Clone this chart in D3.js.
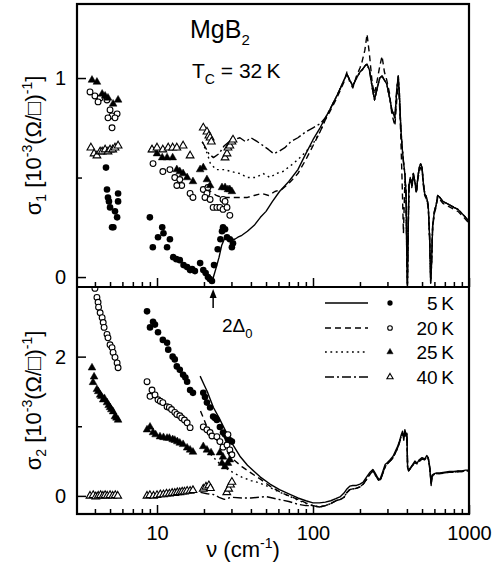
<!DOCTYPE html>
<html><head><meta charset="utf-8">
<script src="https://cdn.jsdelivr.net/npm/d3@7"></script>
<style>
body{margin:0;background:#fff}
svg{display:block}
text{font-family:"Liberation Sans",Arial,Helvetica,sans-serif;fill:#000}
</style>
</head><body>
<svg id="c" width="492" height="563"></svg>
<script>
// ---------- tick values ----------
const xMajor = [10, 100, 1000];
const xMinor = [4,5,6,7,8,9,20,30,40,50,60,70,80,90,200,300,400,500,600,700,800,900];
const y1Major = [0, 1];
const y1Minor = [0.5];
const y2Major = [0, 2];
const y2Minor = [1];
const gapNu = 22.9;   // 2Δ0 arrow position (cm^-1)

// ---------- legend ----------
const legendLabels = ["5 K", "20 K", "25 K", "40 K"];

// ---------- sigma1 lines, low-frequency part [nu, sigma1] ----------
const s1Low5K  = [[22.5,-0.03],[23,0.0],[24,0.05],[25,0.10],[26,0.16],[27,0.19],[28,0.21],[29,0.20],[30,0.19],[31.5,0.19],[33,0.20],[35,0.21],[38,0.23],[42,0.26],[46,0.30],[50,0.33],[55,0.38],[61,0.43],[70,0.48],[80,0.54],[90,0.62],[100,0.69],[111,0.75],[120,0.80]];
const s1Low20K = [[21,0.45],[22,0.43],[24,0.41],[26,0.40],[30,0.40],[34,0.40],[38,0.40],[42,0.41],[47,0.42],[52,0.41],[57,0.43],[63,0.44],[70,0.47],[80,0.52],[90,0.59],[100,0.66],[111,0.73],[120,0.79]];
const s1Low25K = [[19.5,0.68],[21,0.62],[22,0.57],[24,0.54],[27,0.54],[30,0.53],[34,0.52],[38,0.50],[43,0.50],[48,0.52],[53,0.50],[58,0.52],[64,0.53],[72,0.56],[80,0.59],[90,0.63],[100,0.67],[111,0.73],[120,0.79]];
const s1Low40K = [[19.5,0.68],[21.5,0.62],[23,0.60],[25,0.62],[27,0.66],[29,0.68],[31,0.69],[34,0.70],[37,0.68],[40,0.70],[44,0.68],[48,0.66],[52,0.64],[56,0.62],[60,0.63],[66,0.65],[72,0.68],[80,0.70],[90,0.73],[100,0.75],[111,0.77],[120,0.80]];

// ---------- sigma1 high-frequency part (shared grid) ----------
const s1TailNu = [128,140,150,158,165,172,180,190,200,206,215,222,230,240,248,258,268,277,287,297,310,320,335,345,352,358,365,372,380,388,395,400,403,407,412,420,430,440,450,460,470,480,490,500,510,520,535,548,560,568,575,585,600,615,630,650,680,720,760,800,850,900,950,1000];
const s1TailA  = [0.84,0.90,0.95,0.99,1.02,0.99,0.96,1.00,1.03,1.04,1.06,1.07,1.04,0.95,0.89,0.95,1.00,1.01,0.99,0.97,0.90,0.84,0.80,0.95,1.01,0.92,0.76,0.66,0.58,0.52,0.42,0.05,-0.04,0.20,0.46,0.50,0.46,0.52,0.48,0.43,0.50,0.55,0.57,0.55,0.47,0.42,0.40,0.36,0.18,-0.03,0.06,0.26,0.33,0.36,0.41,0.40,0.38,0.37,0.36,0.35,0.34,0.32,0.30,0.28];
const s1TailB  = [0.83,0.89,0.94,0.98,1.03,0.98,0.95,1.01,1.05,1.08,1.14,1.22,1.12,0.97,0.92,0.99,1.06,1.11,1.03,0.99,0.92,0.82,0.76,0.90,0.97,0.88,0.72,0.50,0.22,0.48,0.40,0.08,-0.02,0.22,0.44,0.49,0.45,0.50,0.47,0.42,0.49,0.53,0.55,0.54,0.46,0.41,0.39,0.35,0.20,0.02,0.08,0.25,0.32,0.35,0.40,0.39,0.37,0.36,0.35,0.34,0.33,0.31,0.29,0.27];

// ---------- sigma2 lines, low-frequency part [nu, sigma2] ----------
const s2Low5K  = [[18.9,1.72],[20,1.60],[21,1.50],[22,1.38],[23,1.27],[25,1.12],[27,0.97],[30,0.77],[34,0.57],[38,0.44],[42,0.35],[46,0.27],[53,0.17],[61,0.09],[70,0.03],[80,-0.03],[90,-0.07]];
const s2Low20K = [[19,1.22],[20,1.10],[21,0.98],[23,0.87],[25,0.76],[28,0.63],[31,0.52],[35,0.42],[40,0.33],[46,0.24],[53,0.14],[61,0.06],[70,0.00],[80,-0.05],[90,-0.10]];
const s2Low25K = [[20,0.72],[22,0.60],[25,0.47],[28,0.39],[31,0.33],[35,0.27],[40,0.22],[45,0.19],[52,0.13],[60,0.06],[70,0.00],[80,-0.06],[90,-0.11]];
const s2Low40K = [[19,0.05],[21,0.03],[23,0.02],[25,-0.02],[27,-0.05],[30,-0.02],[35,-0.03],[40,-0.03],[45,-0.02],[50,-0.01],[55,-0.03],[60,-0.05],[70,-0.08],[80,-0.12],[90,-0.14]];

// ---------- sigma2 high-frequency part ----------
const s2TailNu = [100,110,120,130,140,150,158,165,172,180,190,200,210,222,232,242,250,260,268,278,290,300,312,326,340,350,360,368,375,382,388,395,400,404,410,420,435,450,465,480,500,520,536,548,560,572,580,600,620,650,700,750,800,850,900,950,1000];
const s2TailA  = [-0.10,-0.10,-0.09,-0.07,-0.04,-0.01,0.04,0.10,0.14,0.15,0.15,0.17,0.20,0.28,0.34,0.38,0.33,0.26,0.23,0.33,0.45,0.48,0.52,0.57,0.66,0.72,0.80,0.88,0.93,0.80,0.95,0.88,0.90,0.40,0.37,0.40,0.45,0.50,0.47,0.52,0.55,0.53,0.58,0.55,0.42,0.15,0.30,0.32,0.33,0.33,0.34,0.35,0.35,0.36,0.36,0.37,0.37];
const s2TailB  = [-0.14,-0.16,-0.14,-0.11,-0.07,-0.05,-0.02,0.05,0.09,0.10,0.11,0.13,0.17,0.25,0.31,0.36,0.31,0.24,0.21,0.30,0.42,0.46,0.50,0.55,0.63,0.70,0.78,0.86,0.90,0.85,0.92,0.86,0.88,0.42,0.36,0.39,0.44,0.48,0.46,0.50,0.53,0.52,0.56,0.54,0.40,0.18,0.28,0.31,0.32,0.32,0.33,0.34,0.34,0.35,0.35,0.36,0.36];

// ---------- sigma1 markers [nu, sigma1] ----------
const m1_5K  = [[4.71,0.55],[4.78,0.44],[4.85,0.40],[5.63,0.42],[4.92,0.38],[5.63,0.38],[5.0,0.35],[5.38,0.33],[5.55,0.30],[5.15,0.25],[5.25,0.25],
  [9.0,0.30],[9.4,0.15],[10.8,0.25],[11.0,0.22],[10.15,0.20],[12.1,0.19],[11.6,0.15],[12.7,0.10],[13.3,0.09],[14.0,0.085],[14.8,0.06],[15.6,0.05],[16.3,0.035],[16.8,0.04],[17.5,0.03],[18.9,0.07],[19.8,0.035],[20.5,0.02],[21.2,0.0],[21.8,-0.01],[22.5,-0.02],[23.2,0.06],[24.5,0.14],[25.5,0.19],[26.1,0.23],[26.5,0.25],[27.3,0.24],[28.1,0.20],[29.3,0.19],[30.2,0.15],[30.7,0.17]];
const m1_20K = [[3.72,0.93],[4.0,0.91],[4.32,0.90],[4.19,0.88],[4.78,0.89],[5.0,0.84],[5.15,0.81],[5.55,0.82],[4.85,0.80],[5.38,0.80],[5.15,0.75],
  [9.43,0.57],[10.9,0.53],[12.1,0.54],[13.0,0.50],[14.0,0.49],[14.4,0.46],[13.4,0.46],[16.3,0.42],[17.0,0.40],[19.8,0.44],[20.9,0.42],[21.2,0.45],[20.3,0.40],[21.9,0.39],[22.9,0.35],[24.2,0.35],[25.3,0.35],[26.5,0.34],[28.1,0.35],[29.3,0.31],[26.5,0.39],[27.3,0.38]];
const m1_25K = [[3.83,0.99],[4.12,0.98],[4.45,0.92],[4.65,0.91],[4.85,0.90],[5.63,0.89],[5.23,0.87],
  [9.29,0.64],[10.0,0.62],[10.8,0.60],[11.6,0.60],[12.6,0.60],[13.4,0.54],[14.0,0.53],[14.7,0.52],[15.6,0.50],[17.0,0.48],[18.9,0.54],[19.8,0.55],[20.9,0.49],[21.9,0.46],[26.1,0.45],[27.3,0.45],[28.5,0.44],[29.3,0.44],[30.2,0.43]];
const m1_40K = [[3.77,0.65],[3.95,0.62],[4.12,0.61],[4.32,0.63],[4.45,0.63],[4.65,0.64],[4.85,0.63],[5.0,0.64],[5.2,0.64],[5.38,0.65],[5.63,0.66],
  [9.29,0.64],[10.0,0.65],[10.9,0.64],[11.8,0.65],[12.6,0.65],[13.4,0.65],[14.7,0.66],[16.3,0.61],[19.8,0.75],[20.9,0.73],[21.5,0.71],[21.9,0.70],[22.3,0.68],[27.3,0.60],[28.1,0.62],[28.5,0.65],[29.3,0.66],[30.2,0.68],[30.7,0.69]];

// ---------- sigma2 markers [nu, sigma2] ----------
const m2_5K  = [[8.63,2.65],[9.02,2.42],[9.43,2.50],[9.7,2.46],[10.15,2.35],[10.9,2.24],[11.6,2.20],[11.8,2.10],[12.6,2.00],[13.0,1.96],[13.4,1.86],[14.0,1.81],[14.7,1.74],[15.2,1.70],[15.6,1.64],[16.3,1.52],[17.0,1.48],[19.8,1.48],[20.3,1.42],[20.9,1.34],[21.9,1.27],[22.9,1.14],[23.5,1.12],[24.2,1.09],[25.3,0.99],[26.5,0.91],[27.3,0.88],[28.1,0.85],[28.5,0.81],[29.3,0.80],[30.2,0.78]];
const m2_20K = [[4.0,2.98],[4.12,2.85],[4.19,2.78],[4.22,2.71],[4.32,2.63],[4.45,2.56],[4.52,2.49],[4.58,2.42],[4.78,2.32],[4.85,2.27],[5.0,2.17],[5.15,2.13],[5.23,2.06],[5.38,1.99],[5.55,1.91],[5.63,1.84],
  [8.63,1.64],[9.29,1.52],[9.02,1.43],[9.71,1.45],[10.15,1.38],[10.5,1.36],[10.9,1.34],[11.6,1.28],[12.0,1.27],[12.4,1.24],[13.0,1.20],[13.4,1.17],[14.0,1.15],[14.4,1.12],[15.0,1.09],[15.6,1.05],[16.3,0.98],[19.8,0.99],[20.9,0.95],[21.9,0.91],[22.5,0.86],[24.2,0.85],[25.3,0.78],[26.5,0.70],[28.1,0.73],[28.5,0.88],[29.3,0.66],[30.2,0.59]];
const m2_25K = [[3.83,1.84],[3.95,1.71],[3.89,1.63],[4.12,1.53],[4.2,1.50],[4.32,1.45],[4.4,1.43],[4.52,1.38],[4.6,1.40],[4.78,1.34],[4.9,1.30],[5.0,1.27],[5.1,1.24],[5.23,1.21],[5.38,1.14],[5.5,1.12],[5.63,1.09],
  [8.63,0.95],[9.02,0.99],[9.43,0.91],[9.8,0.88],[10.45,0.85],[11.0,0.84],[11.6,0.83],[12.0,0.83],[12.6,0.81],[13.0,0.80],[13.5,0.78],[14.0,0.76],[14.7,0.74],[15.6,0.69],[16.3,0.66],[17.0,0.63],[19.8,0.71],[20.9,0.66],[22.2,0.62],[25.3,0.62],[26.5,0.56],[26.1,0.47],[27.3,0.42],[28.5,0.47],[29.3,0.52]];
const m2_40K = [[3.72,0.0],[3.9,0.01],[4.05,-0.01],[4.2,0.0],[4.35,0.01],[4.5,0.0],[4.65,0.01],[4.8,0.0],[5.0,0.01],[5.2,0.0],[5.4,0.01],[5.6,0.0],
  [8.63,0.0],[9.0,0.01],[9.5,0.0],[10.0,0.01],[10.5,0.02],[11.0,0.02],[11.5,0.03],[12.0,0.03],[12.5,0.04],[13.0,0.04],[13.5,0.05],[14.0,0.05],[14.5,0.06],[15.0,0.06],[15.6,0.07],[16.3,0.07],[17.0,0.08],
  [19.8,0.10],[20.6,0.13],[21.5,0.15],[22.0,0.11],[28.0,0.05],[28.8,0.10],[29.6,0.16],[30.2,0.20]];

// ---------- scales ----------
const L = 77, R = 469, T = 4, MID = 287, B = 514;
const x  = d3.scaleLog().domain([3.07, 1000]).range([L, R]);
const y1 = d3.scaleLinear().domain([-0.05, 1.372]).range([MID, T]);
const y2 = d3.scaleLinear().domain([-0.26, 3.0]).range([B, MID]);

const svg = d3.select("#c");
const defs = svg.append("defs");
defs.append("clipPath").attr("id","cp1").append("rect").attr("x",L).attr("y",T).attr("width",R-L).attr("height",MID-T);
defs.append("clipPath").attr("id","cp2").append("rect").attr("x",L).attr("y",MID).attr("width",R-L).attr("height",B-MID);

const styles = [
  {dash:null},
  {dash:"6,4"},
  {dash:"1.8,3.6"},
  {dash:"9,3,2,3"}
];
const markerTypes = ["fc","oc","ft","ot"];

function zip(nu, vals){ return nu.map((n,i)=>[n, vals[i]]); }

const s1Lines = [
  s1Low5K.concat(zip(s1TailNu, s1TailA)),
  s1Low20K.concat(zip(s1TailNu, s1TailB)),
  s1Low25K.concat(zip(s1TailNu, s1TailA)),
  s1Low40K.concat(zip(s1TailNu, s1TailA))
];
const s2Lines = [
  s2Low5K.concat(zip(s2TailNu, s2TailA)),
  s2Low20K.concat(zip(s2TailNu, s2TailB)),
  s2Low25K.concat(zip(s2TailNu, s2TailB)),
  s2Low40K.concat(zip(s2TailNu, s2TailB))
];
const m1 = [m1_5K, m1_20K, m1_25K, m1_40K];
const m2 = [m2_5K, m2_20K, m2_25K, m2_40K];

function drawMarker(g, type, cx, cy, small){
  const k = small ? 0.8 : 1;
  if (type === "fc") g.append("circle").attr("cx",cx).attr("cy",cy).attr("r",3.3*k).attr("fill","#000");
  else if (type === "oc") g.append("circle").attr("cx",cx).attr("cy",cy).attr("r",2.9*k).attr("fill","#fff").attr("stroke","#000").attr("stroke-width",1.1);
  else {
    const p = d3.symbol(d3.symbolTriangle, 26*k*k)();
    g.append("path").attr("d",p).attr("transform",`translate(${cx},${cy})`)
      .attr("fill", type==="ft" ? "#000" : "#fff").attr("stroke","#000").attr("stroke-width", type==="ft"?0.5:1.1);
  }
}

function panel(lines, markers, yS, clip){
  const g = svg.append("g").attr("clip-path",`url(#${clip})`);
  const line = d3.line().x(d=>x(d[0])).y(d=>yS(d[1]));
  lines.forEach((ld,i)=>{
    g.append("path").attr("d", line(ld)).attr("fill","none").attr("stroke","#000")
      .attr("stroke-width",1.4).attr("stroke-linejoin","round")
      .attr("stroke-dasharray", styles[i].dash);
  });
  markers.forEach((md,i)=>{
    md.forEach(d=> drawMarker(g, markerTypes[i], x(d[0]), yS(d[1]), false));
  });
}
panel(s1Lines, m1, y1, "cp1");
panel(s2Lines, m2, y2, "cp2");

// ---------- axes ----------
function styleAxis(g){
  g.select(".domain").remove();
  g.selectAll("line").attr("stroke","#000").attr("stroke-width",1.5);
  g.selectAll("text").attr("font-size",20).attr("font-family",'"Liberation Sans",Arial,Helvetica,sans-serif').attr("fill","#000");
}
[[MID,false],[B,true]].forEach(([yp, lab])=>{
  svg.append("g").attr("transform",`translate(0,${yp})`)
    .call(d3.axisBottom(x).tickValues(xMajor).tickSize(-9).tickPadding(12).tickFormat(lab ? d3.format("d") : ()=>""))
    .call(styleAxis);
  svg.append("g").attr("transform",`translate(0,${yp})`)
    .call(d3.axisBottom(x).tickValues(xMinor).tickSize(-5).tickFormat(()=>""))
    .call(styleAxis);
});
svg.append("g").attr("transform",`translate(${L},0)`)
  .call(d3.axisLeft(y1).tickValues(y1Major).tickSize(-9).tickPadding(11).tickFormat(d3.format("d"))).call(styleAxis);
svg.append("g").attr("transform",`translate(${L},0)`)
  .call(d3.axisLeft(y1).tickValues(y1Minor).tickSize(-5).tickFormat(()=>"")).call(styleAxis);
svg.append("g").attr("transform",`translate(${L},0)`)
  .call(d3.axisLeft(y2).tickValues(y2Major).tickSize(-9).tickPadding(11).tickFormat(d3.format("d"))).call(styleAxis);
svg.append("g").attr("transform",`translate(${L},0)`)
  .call(d3.axisLeft(y2).tickValues(y2Minor).tickSize(-5).tickFormat(()=>"")).call(styleAxis);

// frame
svg.append("rect").attr("x",L).attr("y",T).attr("width",R-L).attr("height",B-T)
  .attr("fill","none").attr("stroke","#000").attr("stroke-width",2.2);
svg.append("line").attr("x1",L).attr("x2",R).attr("y1",MID).attr("y2",MID)
  .attr("stroke","#000").attr("stroke-width",2.2);

// ---------- texts ----------
const t1 = svg.append("text").attr("x",190).attr("y",38).attr("font-size",25);
t1.append("tspan").text("MgB");
t1.append("tspan").attr("font-size",15).attr("dy",7).text("2");

const t2 = svg.append("text").attr("x",192).attr("y",78).attr("font-size",21);
t2.append("tspan").text("T");
t2.append("tspan").attr("font-size",14).attr("dy",6).text("C");
t2.append("tspan").attr("dy",-6).text(" = 32\u2009K");

function yLabel(cy, sub){
  const t = svg.append("text").attr("transform",`translate(41,${cy}) rotate(-90)`)
    .attr("text-anchor","middle").attr("font-size",22);
  t.append("tspan").text("σ");
  t.append("tspan").attr("font-size",14).attr("dy",5).text(sub);
  t.append("tspan").attr("dy",-5).text(" [10");
  t.append("tspan").attr("font-size",14).attr("dy",-9).text("-3");
  t.append("tspan").attr("dy",9).text("(Ω/□)");
  t.append("tspan").attr("font-size",14).attr("dy",-9).text("-1");
  t.append("tspan").attr("dy",9).text("]");
}
yLabel((T+MID)/2, "1");
yLabel((MID+B)/2, "2");

const xl = svg.append("text").attr("x",243).attr("y",557).attr("text-anchor","middle").attr("font-size",22);
xl.append("tspan").text("ν (cm");
xl.append("tspan").attr("font-size",14).attr("dy",-9).text("-1");
xl.append("tspan").attr("dy",9).text(")");

// arrow for 2Δ0
const ax = x(gapNu);
svg.append("line").attr("x1",ax).attr("x2",ax).attr("y1",308).attr("y2",296).attr("stroke","#000").attr("stroke-width",1.5);
svg.append("path").attr("d",`M${ax-3.5},${298} L${ax},${289} L${ax+3.5},${298} Z`).attr("fill","#000");
const gt = svg.append("text").attr("x",222).attr("y",332).attr("font-size",19);
gt.append("tspan").text("2Δ");
gt.append("tspan").attr("font-size",13).attr("dy",6).text("0");

// ---------- legend ----------
const legRows = [303, 328, 352, 377];
legendLabels.forEach((lab,i)=>{
  const yy = legRows[i];
  svg.append("line").attr("x1",325).attr("x2",368).attr("y1",yy).attr("y2",yy)
    .attr("stroke","#000").attr("stroke-width",1.4).attr("stroke-dasharray",styles[i].dash);
  drawMarker(svg, markerTypes[i], 390, yy, true);
  svg.append("text").attr("x",454).attr("y",yy+7).attr("text-anchor","end").attr("font-size",19)
    .text(lab.replace(" ","\u2009"));
});
</script>
</body></html>
